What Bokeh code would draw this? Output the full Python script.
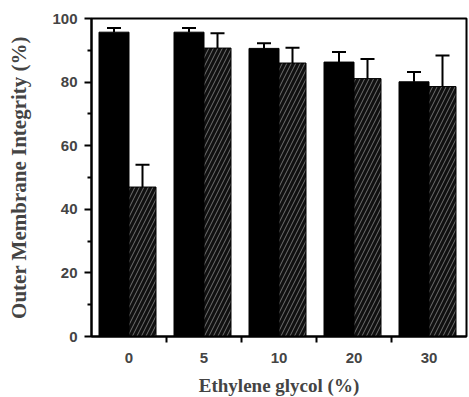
from bokeh.plotting import figure
from bokeh.models import ColumnDataSource, FixedTicker, Range1d, Whisker, TeeHead
from bokeh.embed import file_html
from bokeh.resources import INLINE

categories = ["0", "5", "10", "20", "30"]
control = [95.7, 95.7, 90.6, 86.3, 80.1]
control_err = [1.3, 1.3, 1.6, 3.2, 3.1]
treated = [47.0, 90.7, 86.0, 81.1, 78.6]
treated_err = [7.0, 4.7, 4.8, 6.2, 9.8]

idx = list(range(len(categories)))
xc = [i + 0.5 - 0.2 for i in idx]
xt = [i + 0.5 + 0.18 for i in idx]

src_c = ColumnDataSource(dict(x=xc, top=control, up=[v + e for v, e in zip(control, control_err)]))
src_t = ColumnDataSource(dict(x=xt, top=treated, up=[v + e for v, e in zip(treated, treated_err)]))

p = figure(frame_width=375, frame_height=318, output_backend="svg", toolbar_location=None,
           x_range=Range1d(0, len(categories)), y_range=Range1d(0, 100),
           min_border_left=91, min_border_top=18, min_border_right=2, min_border_bottom=0)
p.grid.visible = False
p.outline_line_color = "black"
p.outline_line_width = 2
p.background_fill_color = "white"

p.vbar(x="x", top="top", bottom=0, width=0.4, source=src_c,
       fill_color="black", line_color="black", line_width=1)
p.vbar(x="x", top="top", bottom=0, width=0.36, source=src_t,
       fill_color="#101010", line_color="black", line_width=1,
       hatch_pattern="/", hatch_color="#7a7a7a", hatch_weight=0.9, hatch_scale=9)

for src in (src_c, src_t):
    w = Whisker(base="x", lower="top", upper="up", source=src, line_width=2, line_color="black",
                upper_head=TeeHead(size=14, line_width=2, line_color="black"), lower_head=None)
    p.add_layout(w)

# y axis
p.yaxis.ticker = FixedTicker(ticks=[0, 20, 40, 60, 80, 100], minor_ticks=[10, 30, 50, 70, 90])
p.yaxis.major_tick_in = 0
p.yaxis.major_tick_out = 7
p.yaxis.minor_tick_in = 0
p.yaxis.minor_tick_out = 4
p.yaxis.major_tick_line_width = 2
p.yaxis.minor_tick_line_width = 2
p.yaxis.axis_line_width = 2
p.yaxis.axis_label = "Outer Membrane Integrity (%)"
p.yaxis.axis_label_text_font = "Liberation Serif"
p.yaxis.axis_label_text_font_style = "bold"
p.yaxis.axis_label_text_font_size = "21px"
p.yaxis.axis_label_standoff = 18
p.yaxis.major_label_text_font = "Liberation Sans"
p.yaxis.major_label_text_font_style = "bold"
p.yaxis.major_label_text_font_size = "15px"
p.yaxis.major_label_standoff = 7

# x axis: labels at category centers, ticks between categories
p.xaxis.ticker = FixedTicker(ticks=[i + 0.5 for i in idx], minor_ticks=[i for i in idx[1:]])
p.xaxis.major_label_overrides = {i + 0.5: c for i, c in zip(idx, categories)}
p.xaxis.major_tick_in = 0
p.xaxis.major_tick_out = 0
p.xaxis.minor_tick_in = 0
p.xaxis.minor_tick_out = 6
p.xaxis.minor_tick_line_width = 2
p.xaxis.axis_line_width = 2
p.xaxis.axis_label = "Ethylene glycol (%)"
p.xaxis.axis_label_text_font = "Liberation Serif"
p.xaxis.axis_label_text_font_style = "bold"
p.xaxis.axis_label_text_font_size = "19px"
p.xaxis.axis_label_standoff = 9
p.xaxis.major_label_text_font = "Liberation Sans"
p.xaxis.major_label_text_font_style = "bold"
p.xaxis.major_label_text_font_size = "15px"
p.xaxis.major_label_standoff = 10

open("out.html", "w").write(file_html(p, INLINE))
